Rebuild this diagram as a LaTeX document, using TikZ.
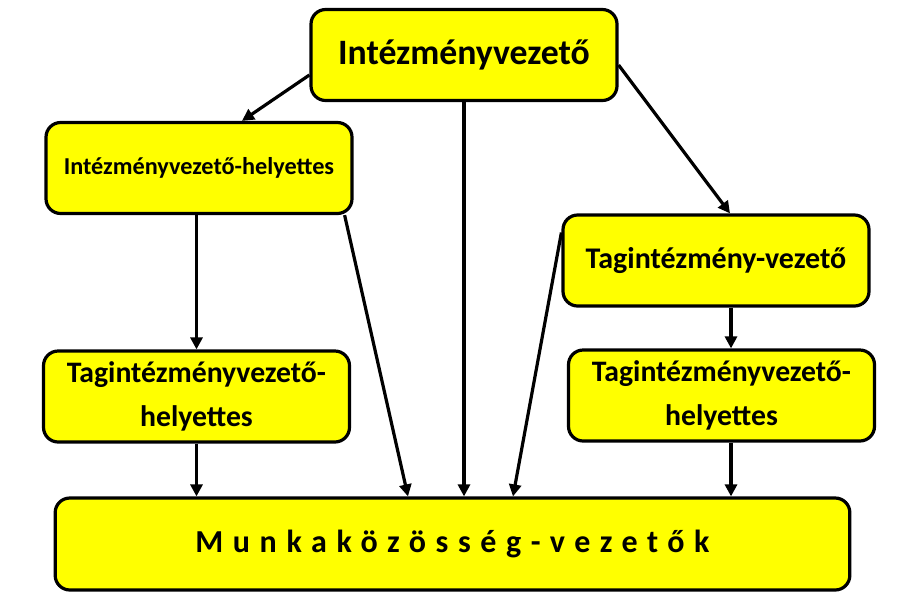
\documentclass[tikz,border=0pt]{standalone}
\usepackage{fontspec}
\setmainfont{Carlito}
\newfontfamily\spacedfont[LetterSpace=30]{Carlito}
\definecolor{boxyellow}{RGB}{255, 255, 0}
\usetikzlibrary{arrows.meta, calc}

\begin{document}
\begin{tikzpicture}[x=0.75pt, y=-0.75pt,
  box/.style={draw=black, line width=2.4pt, fill=boxyellow, rounded corners=11pt,
    minimum width=229.5pt, minimum height=68.25pt, align=center, inner sep=2pt},
  arr/.style={line width=2.4pt, -{Triangle[length=9pt, width=9pt]}}]
  \useasboundingbox (0, 0) rectangle (916, 601);

  % === Top level ===
  \node[box, font=\fontsize{26.8}{30}\selectfont\bfseries] (head) at (464, 55) {Intézményvezető};

  % === Left branch ===
  \node[box, font=\fontsize{18.2}{21}\selectfont\bfseries] (deputy) at (199, 168) {Intézményvezető-helyettes};
  \node[box, font=\fontsize{22.3}{33}\selectfont\bfseries] (subdepL) at (196.5, 396.5) {Tagintézményvezető-\\helyettes};

  % === Right branch ===
  \node[box, font=\fontsize{22.5}{28}\selectfont\bfseries] (unit) at (716, 260.5) {Tagintézmény-vezető};
  \node[box, font=\fontsize{22.3}{33}\selectfont\bfseries] (subdepR) at (721.5, 395.5) {Tagintézményvezető-\\helyettes};

  % === Bottom ===
  \node[box, minimum width=596pt, minimum height=69pt, font=\fontsize{24}{28}\spacedfont\bfseries] (heads) at (452.5, 544) {Munkaközösség-vezetők};

  % Arrows from the top
  \draw[arr] ($(head.west)+(0, 20)$) -- ($(deputy.north)+(43, 0)$);
  \draw[arr] (head.south) -- (head.south |- heads.north);
  \draw[arr] ($(head.east)+(0, 10)$) -- ($(unit.north)+(14, 0)$);

  % Left branch arrows
  \draw[arr] (deputy.south -| subdepL.north) -- (subdepL.north);
  \draw[arr] ($(deputy.south east)+(-9, 0)$) -- ($(heads.north)+(-44.5, 0)$);
  \draw[arr] (subdepL.south) -- (subdepL.south |- heads.north);

  % Right branch arrows
  \draw[arr] ($(unit.west)+(0, -28)$) -- ($(heads.north)+(60.5, 0)$);
  \draw[arr] ($(unit.south)+(15, 0)$) -- ($(subdepR.north)+(9.5, 0)$);
  \draw[arr] ($(subdepR.south)+(9.5, 0)$) -- ($(heads.north)+(278.5, 0)$);
\end{tikzpicture}
\end{document}
